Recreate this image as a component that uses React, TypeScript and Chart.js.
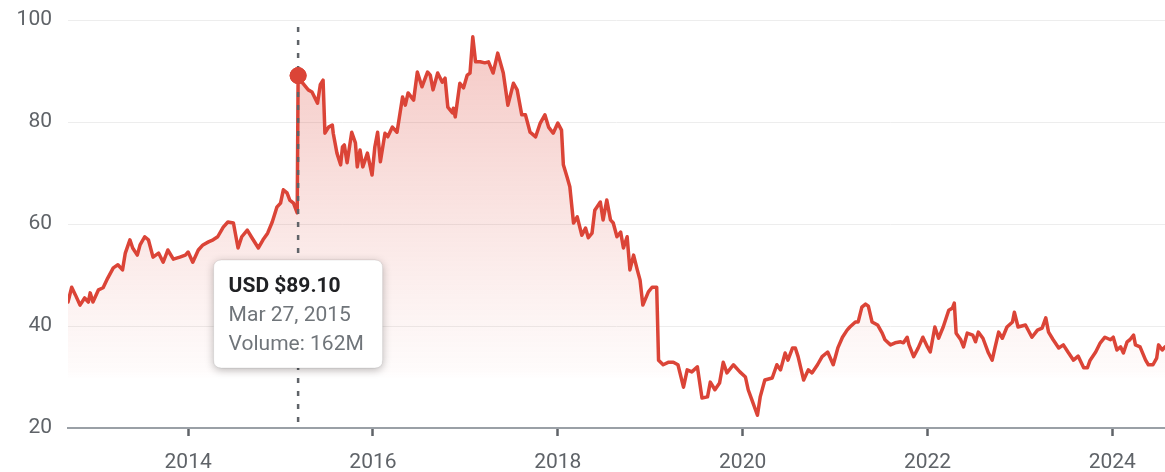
import React, { useEffect, useRef } from "react";
import { Chart, registerables } from "chart.js";

Chart.register(...registerables);

// Decimal years (x) and closing prices in USD (y)
const DATES = [
  2012.70, 2012.74, 2012.78, 2012.83, 2012.88, 2012.92, 2012.94, 2012.97, 2013.03, 2013.08,
  2013.13, 2013.19, 2013.24, 2013.29, 2013.32, 2013.37, 2013.40, 2013.45, 2013.48, 2013.53,
  2013.57, 2013.62, 2013.68, 2013.73, 2013.78, 2013.84, 2013.91, 2013.97, 2014.00, 2014.05,
  2014.11, 2014.16, 2014.22, 2014.27, 2014.32, 2014.38, 2014.43, 2014.49, 2014.54, 2014.58,
  2014.64, 2014.69, 2014.76, 2014.81, 2014.86, 2014.91, 2014.96, 2015.00, 2015.03, 2015.07,
  2015.10, 2015.14, 2015.18, 2015.19, 2015.24, 2015.30, 2015.34, 2015.40, 2015.43, 2015.46,
  2015.48, 2015.52, 2015.56, 2015.57, 2015.61, 2015.65, 2015.67, 2015.69, 2015.72, 2015.77,
  2015.81, 2015.83, 2015.86, 2015.89, 2015.94, 2015.99, 2016.02, 2016.05, 2016.08, 2016.13,
  2016.16, 2016.21, 2016.26, 2016.32, 2016.35, 2016.38, 2016.44, 2016.48, 2016.53, 2016.59,
  2016.62, 2016.65, 2016.70, 2016.75, 2016.78, 2016.81, 2016.86, 2016.87, 2016.89, 2016.94,
  2016.98, 2017.02, 2017.05, 2017.08, 2017.11, 2017.16, 2017.21, 2017.25, 2017.30, 2017.35,
  2017.41, 2017.46, 2017.52, 2017.56, 2017.61, 2017.65, 2017.70, 2017.76, 2017.81, 2017.86,
  2017.90, 2017.95, 2018.00, 2018.04, 2018.06, 2018.10, 2018.13, 2018.17, 2018.21, 2018.26,
  2018.30, 2018.33, 2018.37, 2018.40, 2018.46, 2018.49, 2018.53, 2018.57, 2018.60, 2018.64,
  2018.68, 2018.71, 2018.75, 2018.78, 2018.82, 2018.86, 2018.89, 2018.92, 2018.98, 2019.02,
  2019.07, 2019.09, 2019.14, 2019.20, 2019.25, 2019.30, 2019.36, 2019.40, 2019.45, 2019.51,
  2019.56, 2019.62, 2019.65, 2019.70, 2019.75, 2019.79, 2019.83, 2019.90, 2019.97, 2020.03,
  2020.06, 2020.10, 2020.16, 2020.19, 2020.24, 2020.32, 2020.37, 2020.41, 2020.46, 2020.49,
  2020.54, 2020.57, 2020.60, 2020.66, 2020.71, 2020.75, 2020.81, 2020.86, 2020.92, 2020.98,
  2021.03, 2021.08, 2021.13, 2021.16, 2021.22, 2021.25, 2021.29, 2021.33, 2021.36, 2021.40,
  2021.46, 2021.51, 2021.54, 2021.60, 2021.65, 2021.71, 2021.74, 2021.78, 2021.80, 2021.85,
  2021.90, 2021.95, 2022.00, 2022.03, 2022.08, 2022.12, 2022.17, 2022.23, 2022.27, 2022.29,
  2022.31, 2022.36, 2022.39, 2022.43, 2022.49, 2022.52, 2022.55, 2022.60, 2022.66, 2022.70,
  2022.73, 2022.77, 2022.81, 2022.86, 2022.92, 2022.94, 2022.98, 2023.06, 2023.13, 2023.19,
  2023.24, 2023.28, 2023.31, 2023.36, 2023.42, 2023.47, 2023.52, 2023.58, 2023.63, 2023.69,
  2023.73, 2023.76, 2023.82, 2023.87, 2023.92, 2023.98, 2024.01, 2024.05, 2024.09, 2024.12,
  2024.16, 2024.19, 2024.23, 2024.25, 2024.30, 2024.36, 2024.39, 2024.44, 2024.48, 2024.50,
  2024.54, 2024.57,
];

const PRICES = [
  44.7, 47.6, 46.1, 44.1, 45.5, 44.7, 46.5, 44.7, 47.1, 47.5,
  49.4, 51.4, 52.0, 51.0, 54.3, 56.9, 55.3, 53.9, 55.9, 57.5,
  56.9, 53.5, 54.3, 52.5, 54.9, 53.1, 53.5, 53.9, 54.5, 52.5,
  54.9, 55.9, 56.5, 56.9, 57.5, 59.4, 60.4, 60.2, 55.3, 57.5,
  58.8, 57.3, 55.3, 56.9, 58.2, 60.4, 63.3, 64.1, 66.7, 66.1,
  64.7, 64.1, 62.2, 89.1, 87.6, 86.3, 85.9, 83.7, 87.3, 88.2,
  77.8, 79.0, 79.4, 77.8, 73.9, 71.6, 75.1, 75.5, 72.0, 78.0,
  75.9, 71.2, 74.5, 71.2, 73.9, 69.6, 75.1, 78.0, 72.2, 77.8,
  77.1, 79.0, 78.0, 84.9, 83.3, 85.7, 84.3, 89.8, 86.9, 89.8,
  89.2, 86.3, 89.6, 87.8, 88.6, 82.9, 81.8, 82.7, 81.0, 87.6,
  86.7, 89.2, 89.6, 96.7, 91.8, 91.8, 91.6, 91.8, 89.6, 93.5,
  89.6, 83.3, 87.6, 86.3, 81.4, 81.4, 78.0, 77.1, 79.8, 81.4,
  79.0, 77.8, 79.8, 78.4, 71.6, 69.2, 67.3, 60.2, 61.4, 57.8,
  59.2, 57.3, 58.2, 62.7, 64.3, 60.8, 64.7, 60.8, 60.2, 57.5,
  58.4, 55.3, 57.5, 51.0, 53.9, 51.0, 49.0, 44.1, 46.7, 47.6,
  47.6, 33.3, 32.4, 32.9, 32.9, 32.4, 28.0, 31.4, 31.0, 32.0,
  25.9, 26.1, 29.0, 27.5, 28.8, 32.9, 30.8, 32.4, 31.0, 30.0,
  27.5, 25.5, 22.5, 26.1, 29.4, 29.8, 32.4, 31.4, 34.7, 33.3,
  35.7, 35.7, 34.0, 29.4, 31.4, 30.8, 32.4, 34.0, 34.9, 32.4,
  35.7, 37.8, 39.2, 39.8, 40.8, 40.8, 43.7, 44.3, 43.9, 40.8,
  40.2, 38.6, 37.3, 36.3, 36.7, 36.9, 36.7, 37.8, 36.3, 34.0,
  35.7, 37.8, 35.9, 34.9, 39.8, 37.6, 39.8, 43.1, 43.5, 44.5,
  38.6, 37.3, 35.9, 38.6, 38.2, 36.9, 38.8, 37.6, 34.7, 33.3,
  35.7, 38.8, 37.6, 39.8, 40.8, 42.7, 39.8, 40.2, 37.8, 39.2,
  39.6, 41.6, 38.8, 37.3, 35.7, 36.3, 34.9, 33.3, 34.1, 31.8,
  31.8, 33.3, 34.9, 36.7, 37.8, 37.3, 37.8, 35.3, 35.9, 34.7,
  36.9, 37.3, 38.2, 36.3, 35.9, 33.3, 32.4, 32.4, 33.7, 36.3,
  35.3, 35.9,
];

const YEAR_TICKS = [2014, 2016, 2018, 2020, 2022, 2024];
const Y_TICKS = [20, 40, 60, 80, 100];
const X_MIN = 2012.7;
const X_MAX = 2024.57;

const HIGHLIGHT_DATE = 2015.19;
const TOOLTIP_PRICE = "USD $89.10";
const TOOLTIP_DATE = "Mar 27, 2015";
const TOOLTIP_VOLUME = "Volume: 162M";

const LINE_COLOR = "#db4437";
const AXIS_TEXT = "#5f6368";
const FONT = "Roboto, 'Noto Sans', Arial, sans-serif";

function roundRectPath(ctx: CanvasRenderingContext2D, x: number, y: number, w: number, h: number, r: number) {
  ctx.beginPath();
  ctx.moveTo(x + r, y);
  ctx.lineTo(x + w - r, y);
  ctx.quadraticCurveTo(x + w, y, x + w, y + r);
  ctx.lineTo(x + w, y + h - r);
  ctx.quadraticCurveTo(x + w, y + h, x + w - r, y + h);
  ctx.lineTo(x + r, y + h);
  ctx.quadraticCurveTo(x, y + h, x, y + h - r);
  ctx.lineTo(x, y + r);
  ctx.quadraticCurveTo(x, y, x + r, y);
  ctx.closePath();
}

export default function App() {
  const canvasRef = useRef<HTMLCanvasElement | null>(null);

  useEffect(() => {
    const canvas = canvasRef.current;
    if (!canvas) return;
    const hi = DATES.indexOf(HIGHLIGHT_DATE);

    const hoverPlugin = {
      id: "hoverMarker",
      afterDatasetsDraw(chart: any) {
        const el = chart.getDatasetMeta(0).data[hi];
        if (!el) return;
        const ctx = chart.ctx as CanvasRenderingContext2D;
        const { top, bottom } = chart.chartArea;
        ctx.save();
        ctx.strokeStyle = "#5f6368";
        ctx.lineWidth = 2.5;
        ctx.setLineDash([5, 8]);
        ctx.beginPath();
        ctx.moveTo(el.x, top + 7);
        ctx.lineTo(el.x, bottom);
        ctx.stroke();
        ctx.restore();
        el.draw(ctx, chart.chartArea);
      },
      afterDraw(chart: any) {
        const el = chart.getDatasetMeta(0).data[hi];
        if (!el) return;
        const ctx = chart.ctx as CanvasRenderingContext2D;
        const w = 169;
        const h = 108;
        const bx = el.x - w / 2;
        const by = 260;
        ctx.save();
        ctx.shadowColor = "rgba(0,0,0,0.28)";
        ctx.shadowBlur = 8;
        ctx.shadowOffsetY = 2;
        roundRectPath(ctx, bx, by, w, h, 8);
        ctx.fillStyle = "#ffffff";
        ctx.fill();
        ctx.shadowColor = "transparent";
        ctx.strokeStyle = "rgba(0,0,0,0.08)";
        ctx.lineWidth = 1;
        ctx.stroke();
        ctx.textAlign = "left";
        ctx.textBaseline = "alphabetic";
        ctx.fillStyle = "#202124";
        ctx.font = `bold 21px ${FONT}`;
        ctx.fillText(TOOLTIP_PRICE, bx + 15, by + 32);
        ctx.fillStyle = "#70757a";
        ctx.font = `21px ${FONT}`;
        ctx.fillText(TOOLTIP_DATE, bx + 15, by + 61);
        ctx.fillText(TOOLTIP_VOLUME, bx + 15, by + 90);
        ctx.restore();
      },
    };

    const chart = new Chart(canvas, {
      type: "line",
      data: {
        datasets: [
          {
            data: DATES.map((d, i) => ({ x: d, y: PRICES[i] })),
            borderColor: LINE_COLOR,
            borderWidth: 3.5,
            borderJoinStyle: "round",
            borderCapStyle: "round",
            tension: 0,
            fill: "start",
            backgroundColor: (c: any) => {
              const chart = c.chart;
              const area = chart.chartArea;
              if (!area) return "rgba(219,68,55,0.1)";
              const g = chart.ctx.createLinearGradient(0, area.top, 0, area.bottom);
              g.addColorStop(0, "rgba(219,68,55,0.30)");
              g.addColorStop(0.25, "rgba(219,68,55,0.22)");
              g.addColorStop(0.69, "rgba(219,68,55,0.07)");
              g.addColorStop(0.86, "rgba(219,68,55,0.02)");
              g.addColorStop(0.88, "rgba(219,68,55,0)");
              g.addColorStop(1, "rgba(219,68,55,0)");
              return g;
            },
            pointRadius: (c: any) => (c.dataIndex === hi ? 8 : 0),
            pointBackgroundColor: LINE_COLOR,
            pointBorderColor: LINE_COLOR,
            pointBorderWidth: 1,
            pointHoverRadius: 0,
          },
        ],
      },
      options: {
        animation: false,
        responsive: true,
        maintainAspectRatio: false,
        events: [],
        layout: { padding: { top: 20, right: 0, left: 0, bottom: 0 } },
        plugins: {
          legend: { display: false },
          tooltip: { enabled: false },
        },
        scales: {
          x: {
            type: "linear",
            min: X_MIN,
            max: X_MAX,
            afterBuildTicks: (s: any) => {
              s.ticks = YEAR_TICKS.map((v) => ({ value: v }));
            },
            afterFit: (s: any) => {
              s.height = 44;
              s.paddingLeft = 0;
              s.paddingRight = 0;
            },
            ticks: {
              callback: (v: any) => String(v),
              color: AXIS_TEXT,
              font: { family: FONT, size: 21 },
              padding: 14,
              maxRotation: 0,
              autoSkip: false,
            },
            grid: {
              drawOnChartArea: false,
              drawTicks: true,
              tickLength: 8,
              tickColor: "#5f6368",
              tickWidth: 2.5,
            },
            border: { display: true, color: "#9aa0a6", width: 2 },
          },
          y: {
            type: "linear",
            min: 20,
            max: 100,
            afterBuildTicks: (s: any) => {
              s.ticks = Y_TICKS.map((v) => ({ value: v }));
            },
            afterFit: (s: any) => {
              s.width = 68;
              s.paddingTop = 0;
              s.paddingBottom = 0;
            },
            ticks: {
              color: AXIS_TEXT,
              font: { family: FONT, size: 21 },
              padding: 16,
            },
            grid: { color: "#ededed", lineWidth: 1, drawTicks: false },
            border: { display: false },
          },
        },
      },
      plugins: [hoverPlugin],
    } as any);

    return () => chart.destroy();
  }, []);

  return (
    <div style={{ position: "fixed", left: 0, top: 0, width: 1165, height: 472, background: "#ffffff" }}>
      <canvas ref={canvasRef} />
    </div>
  );
}
